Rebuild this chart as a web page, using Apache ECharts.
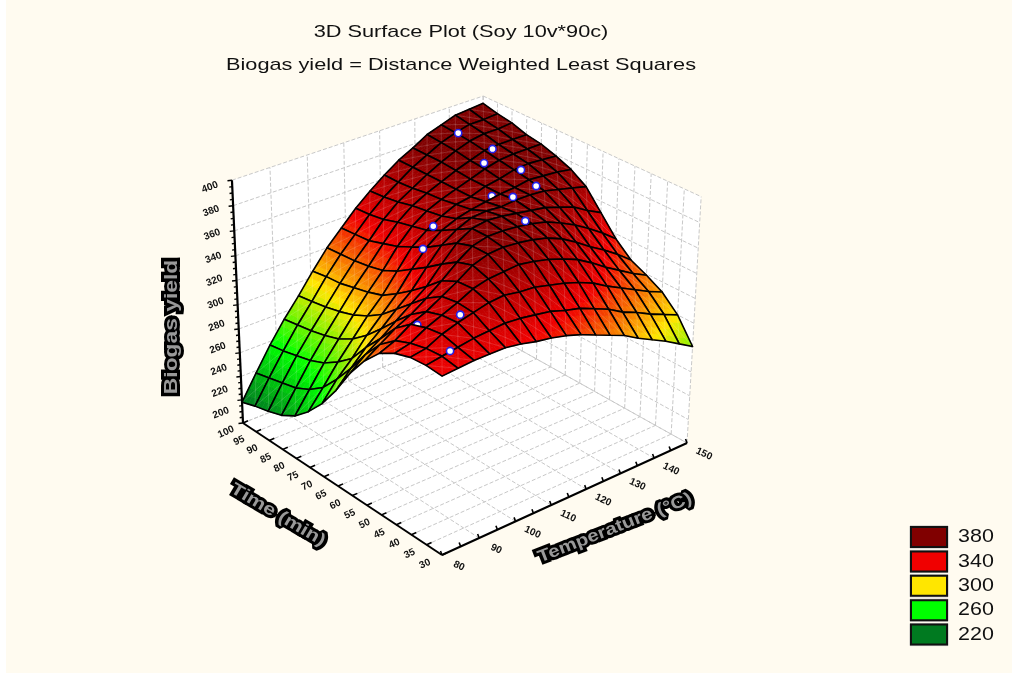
<!DOCTYPE html>
<html><head><meta charset="utf-8">
<style>html,body{margin:0;padding:0;background:#fff}
#bg{position:absolute;left:6px;top:0;width:1006px;height:673px;background:#fffbf0}
#c{position:absolute;left:0;top:0;width:1012px;height:675px}</style>
<script src="https://cdn.jsdelivr.net/npm/echarts@6/dist/echarts.min.js"></script>
</head><body><div id="bg"></div><div id="c"></div>
<script>
const chartTitle = '3D Surface Plot (Soy 10v*90c)';
const chartSubtitle = 'Biogas yield = Distance Weighted Least Squares';
const zAxisName = 'Biogas yield';
const timeAxisName = 'Time (min)';
const tempAxisName = 'Temperature (°C)';
const legendValues = [380, 340, 300, 260, 220];
const legendColors = ['#800000', '#f00000', '#ffe600', '#00ff00', '#007a20'];
const zTicks = [200,220,240,260,280,300,320,340,360,380,400];
const timeTicks = [30,35,40,45,50,55,60,65,70,75,80,85,90,95,100];
const tempTicks = [80,90,100,110,120,130,140,150];
// surface: one row per temperature step, one column per time step
const surfaceZ = [
[341,342,341,337,330,317,300,279,261,247,236,229,225,222,218],
[342,344,343,340,335,325,310,292,276,262,253,247,244,241,238],
[343,346,349,347,343,333,318,304,288,278,270,265,262,259,257],
[343,348,353,352,348,339,327,314,302,292,285,281,278,276,274],
[343,349,356,357,355,347,336,325,314,306,300,296,293,291,289],
[341,350,359,363,362,356,345,335,326,318,314,311,308,307,305],
[338,349,360,366,370,366,358,349,341,333,327,324,322,321,320],
[336,347,358,367,374,374,370,362,354,348,342,338,334,333,332],
[333,345,357,368,375,377,377,370,363,357,354,351,347,345,344],
[329,341,354,366,374,377,379,375,368,364,362,360,357,355,354],
[324,338,351,363,372,376,378,376,371,369,367,366,364,363,363],
[319,333,347,359,369,374,376,375,373,371,371,371,371,371,371],
[314,328,342,354,364,371,374,376,375,375,375,376,377,377,377],
[307,321,335,347,357,366,372,376,376,377,379,380,382,383,384],
[301,316,329,339,349,360,368,375,378,380,382,384,386,387,388],
[295,310,323,332,342,353,364,372,377,381,383,385,388,390,392],
[288,305,317,325,334,345,357,369,376,380,383,385,388,390,393],
[281,300,312,319,325,336,351,366,374,379,383,385,389,391,394]
];
// measured points: [time, temperature, yield]
const pointsOnTop = [[94,137.6,388],[82,135,380],[74,138.8,380],[66.6,136.7,378],[67.1,130.5,375],[56,124.3,376],[77.5,116.8,353],[73.2,110.4,347],[34.4,85.7,347]];
const pointsPartlyHidden = [[85,140,383],[72.3,129,371],[49.3,89.4,342],[43.2,95.7,351]];

const TMIN=30,TMAX=100,PMIN=80,PMAX=150,ZMIN=200,ZMAX=400;
const GRIDC='#c8c8c8';
const P={g:.0918,h:.072,r:-.058,a:-176.7,b:294.5,c:442,mx:-25.5,d:-93.2,e:-80.1,f:555,my:-275.5};
function proj(t,p,z){
  const u=(t-TMIN)/(TMAX-TMIN),v=(p-PMIN)/(PMAX-PMIN),w=(z-ZMIN)/(ZMAX-ZMIN);
  const D=1+P.g*u+P.h*v+P.r*w;
  return [(P.a*u+P.b*v+P.c+P.mx*w)/D,(P.d*u+P.e*v+P.f+P.my*w)/D];
}
const stops=[[220,[0,122,32]],[260,[0,255,0]],[300,[255,230,0]],[340,[240,0,0]],[380,[128,0,0]]];
function colorOf(z){
  if(z<=stops[0][0])return `rgb(${stops[0][1]})`;
  for(let k=1;k<stops.length;k++){ if(z<=stops[k][0]){
    const a=stops[k-1],b=stops[k],s=(z-a[0])/(b[0]-a[0]);
    return `rgb(${a[1].map((c,n)=>Math.round(c+(b[1][n]-c)*s))})`; } }
  return `rgb(${stops[4][1]})`;
}
const nI=surfaceZ[0].length-1,nJ=surfaceZ.length-1;
const tAt=i=>TMIN+(TMAX-TMIN)*i/nI, pAt=j=>PMIN+(PMAX-PMIN)*j/nJ;
const zAt=(i,j)=>surfaceZ[j][i];

// painter list: far -> near
const items=[];
for(let j=0;j<nJ;j++)for(let i=0;i<nI;i++)items.push({k:(i+.5)/nI+(j+.5)/nJ,v:[0,i,j,0]});
pointsPartlyHidden.forEach(p=>items.push({k:(p[0]-TMIN)/(TMAX-TMIN)+(p[1]-PMIN)/(PMAX-PMIN)-.07,v:[1,p[0],p[1],p[2]]}));
items.sort((a,b)=>b.k-a.k);
const SUB=4;
const dot=q=>({type:'circle',shape:{cx:q[0],cy:q[1],r:3.6},style:{fill:'#fff',stroke:'#2222ee',lineWidth:1.6}});
function surfaceItem(params,api){
  const kind=api.value(0);
  const c=(t,p,z)=>api.coord(proj(t,p,z));
  if(kind===1)return dot(c(api.value(1),api.value(2),api.value(3)));
  const i=api.value(1),j=api.value(2);
  const z00=zAt(i,j),z10=zAt(i+1,j),z01=zAt(i,j+1),z11=zAt(i+1,j+1);
  const kids=[];
  const bil=(a,b)=>z00*(1-a)*(1-b)+z10*a*(1-b)+z01*(1-a)*b+z11*a*b;
  const pt=(a,b)=>c(tAt(i+a),pAt(j+b),bil(a,b));
  for(let m=0;m<SUB;m++)for(let n=0;n<SUB;n++){
    const a0=m/SUB,a1=(m+1)/SUB,b0=n/SUB,b1=(n+1)/SUB,col=colorOf(bil((a0+a1)/2,(b0+b1)/2));
    kids.push({type:'polygon',shape:{points:[pt(a0,b0),pt(a1,b0),pt(a1,b1),pt(a0,b1)]},style:{fill:col,stroke:col,lineWidth:.7}});
  }
  const P00=c(tAt(i),pAt(j),z00),P10=c(tAt(i+1),pAt(j),z10),P11=c(tAt(i+1),pAt(j+1),z11),P01=c(tAt(i),pAt(j+1),z01);
  kids.push({type:'polyline',shape:{points:[P00,P11]},style:{fill:'none',stroke:'rgba(255,255,255,.22)',lineWidth:.7}});
  kids.push({type:'polyline',shape:{points:[P10,P01]},style:{fill:'none',stroke:'rgba(255,255,255,.22)',lineWidth:.7}});
  kids.push({type:'polygon',shape:{points:[P00,P10,P11,P01]},style:{fill:'none',stroke:'#000',lineWidth:1.6,lineJoin:'round'}});
  return {type:'group',children:kids};
}
function wallsItem(params,api){
  const c=(t,p,z)=>api.coord(proj(t,p,z));
  const poly=pts=>({type:'polygon',shape:{points:pts},style:{fill:'#fff',stroke:'none'}});
  const line=(A,B)=>({type:'line',shape:{x1:A[0],y1:A[1],x2:B[0],y2:B[1]},style:{stroke:GRIDC,lineWidth:1,lineDash:[4,2]}});
  const kids=[
    poly([c(TMIN,PMIN,ZMIN),c(TMAX,PMIN,ZMIN),c(TMAX,PMAX,ZMIN),c(TMIN,PMAX,ZMIN)]),
    poly([c(TMAX,PMIN,ZMIN),c(TMAX,PMAX,ZMIN),c(TMAX,PMAX,ZMAX),c(TMAX,PMIN,ZMAX)]),
    poly([c(TMIN,PMAX,ZMIN),c(TMAX,PMAX,ZMIN),c(TMAX,PMAX,ZMAX),c(TMIN,PMAX,ZMAX)])
  ];
  timeTicks.forEach(t=>{kids.push(line(c(t,PMIN,ZMIN),c(t,PMAX,ZMIN)));kids.push(line(c(t,PMAX,ZMIN),c(t,PMAX,ZMAX)));});
  tempTicks.forEach(p=>{kids.push(line(c(TMIN,p,ZMIN),c(TMAX,p,ZMIN)));kids.push(line(c(TMAX,p,ZMIN),c(TMAX,p,ZMAX)));});
  zTicks.forEach(z=>{kids.push(line(c(TMAX,PMIN,z),c(TMAX,PMAX,z)));kids.push(line(c(TMAX,PMAX,z),c(TMIN,PMAX,z)));});
  return {type:'group',children:kids};
}
function axesItem(params,api){
  const c=(t,p,z)=>api.coord(proj(t,p,z));
  const seg=(A,B,w)=>({type:'line',shape:{x1:A[0],y1:A[1],x2:B[0],y2:B[1]},style:{stroke:'#000',lineWidth:w}});
  const kids=[seg(c(TMIN,PMIN,ZMIN),c(TMAX,PMIN,ZMIN),2),seg(c(TMIN,PMIN,ZMIN),c(TMIN,PMAX,ZMIN),2),seg(c(TMAX,PMIN,ZMIN),c(TMAX,PMIN,ZMAX),2.2)];
  const text=(A,s,rot,o,sx)=>({type:'text',x:A[0],y:A[1],rotation:rot*Math.PI/180,scaleX:sx||1,style:Object.assign({text:s,fill:'#111',font:'bold 10px "Liberation Sans"',align:'center',verticalAlign:'middle'},o||{})});
  timeTicks.forEach(t=>{const A=c(t,PMIN,ZMIN);kids.push(seg(A,[A[0]+5,A[1]-2.2],1.6));kids.push(text([A[0]-17,A[1]+9],String(t),25));});
  for(let p=PMIN;p<=PMAX;p+=5){const A=c(TMIN,p,ZMIN);kids.push(seg(A,[A[0]-1.5,A[1]-4],1.6));}
  tempTicks.forEach(p=>{const A=c(TMIN,p,ZMIN);kids.push(text([A[0]+17,A[1]+11],String(p),-25));});
  for(let z=ZMIN;z<=ZMAX;z+=5){const A=c(TMAX,PMIN,z);kids.push(seg(A,[A[0]-((z%20)?3:4.5),A[1]+.5],1.4));}
  zTicks.forEach(z=>{const A=c(TMAX,PMIN,z);const w=(z-ZMIN)/(ZMAX-ZMIN);kids.push(text([A[0]-22,A[1]-10+17*w],String(z),20));});
  const blob={fill:'#999',stroke:'#000',lineWidth:6,font:'bold 17px "Liberation Sans"'};
  kids.push(text([278,515],timeAxisName,-30.6,blob,1.25));
  kids.push(text([615,528],tempAxisName,21.5,blob,1.2));
  kids.push(text([172,327],zAxisName,90,Object.assign({},blob,{font:'bold 19px "Liberation Sans"'}),1.2));
  return {type:'group',children:kids};
}
const chart=echarts.init(document.getElementById('c'),null,{renderer:'canvas'});
const ttl=(s,y)=>({type:'text',x:461,y:y,scaleX:1.278,style:{text:s,fill:'#111',font:'17px "Liberation Sans"',align:'center',verticalAlign:'middle'}});
chart.setOption({
  backgroundColor:'transparent',animation:false,
  grid:{left:0,right:0,top:0,bottom:0},
  xAxis:{type:'value',min:0,max:1012,show:false},
  yAxis:{type:'value',min:0,max:675,inverse:true,show:false},
  graphic:[ttl(chartTitle,32),ttl(chartSubtitle,65)].concat(legendValues.flatMap((v,n)=>[
    {type:'rect',x:910,y:526+n*24.4,shape:{width:38,height:22},style:{fill:'none',stroke:'#bbb',lineWidth:1}},
    {type:'rect',x:911,y:527+n*24.4,shape:{width:36,height:20},style:{fill:legendColors[n],stroke:'#111',lineWidth:2}},
    {type:'text',x:958,y:537+n*24.4,scaleX:1.13,style:{text:String(v),fill:'#111',font:'19px "Liberation Sans"',verticalAlign:'middle'}}
  ])),
  series:[
    {type:'custom',coordinateSystem:'cartesian2d',silent:true,z:1,clip:false,renderItem:wallsItem,data:[[0,0]]},
    {type:'custom',coordinateSystem:'cartesian2d',silent:true,z:2,clip:false,renderItem:axesItem,data:[[0,0]]},
    {type:'custom',coordinateSystem:'cartesian2d',silent:true,z:3,clip:false,renderItem:surfaceItem,progressive:0,data:items.map(o=>o.v),encode:{x:1,y:2}},
    {type:'custom',coordinateSystem:'cartesian2d',silent:true,z:4,clip:false,progressive:0,data:pointsOnTop,encode:{x:0,y:1},
      renderItem:(params,api)=>dot(api.coord(proj(api.value(0),api.value(1),api.value(2))))}
  ]
});
</script></body></html>
